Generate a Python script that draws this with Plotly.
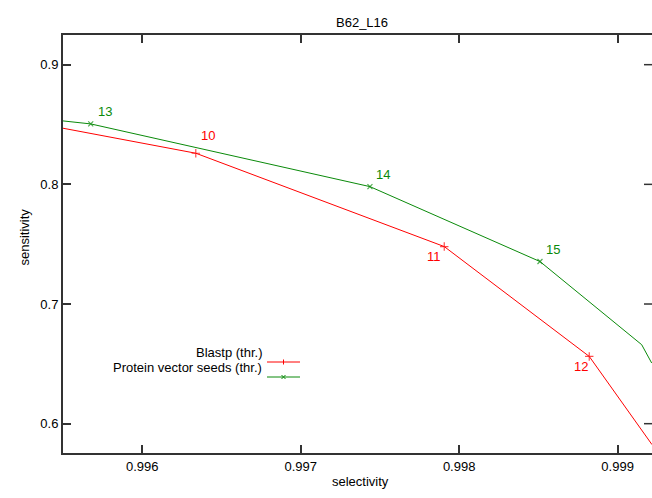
import plotly.graph_objects as go

# ---- data ----
blast_x = [0.99550, 0.996338, 0.997906, 0.998821, 0.999217]
blast_y = [0.8469, 0.8260, 0.7480, 0.6562, 0.5825]
blast_thr = ["", "10", "11", "12", ""]

pvs_x = [0.99550, 0.995675, 0.997437, 0.998510, 0.999152, 0.999215]
pvs_y = [0.8530, 0.8505, 0.7981, 0.7355, 0.6660, 0.6507]
pvs_thr = ["", "13", "14", "15", "", ""]

x_ticks = [0.996, 0.997, 0.998, 0.999]
y_ticks = [0.6, 0.7, 0.8, 0.9]

# ---- style ----
RED = "#ff0000"
GREEN = "#0a8a0a"
AX = "#333333"
FONT = "Liberation Sans, Arial, sans-serif"
FS = 13
W, H = 652, 498
ML, MR, MT, MB = 63, 0, 35, 45
PW, PH = W - ML - MR, H - MT - MB

# label offsets (px) for threshold labels
blast_off = [(0, 0), (12, -18), (-10, 10), (-8, 10), (0, 0)]
pvs_off = [(0, 0), (14, -12), (13, -12), (13, -12), (0, 0), (0, 0)]


def px(xp):
    return (xp - ML) / PW


def py(yp):
    return (H - MB - yp) / PH


fig = go.Figure()

fig.add_trace(go.Scatter(
    x=blast_x, y=blast_y, mode="lines+markers",
    line=dict(color=RED, width=1),
    marker=dict(symbol="cross-thin", size=[6 if t else 0 for t in blast_thr],
                line=dict(color=RED, width=1.2), color=RED),
    showlegend=False, hoverinfo="skip"))

fig.add_trace(go.Scatter(
    x=pvs_x, y=pvs_y, mode="lines+markers",
    line=dict(color=GREEN, width=1),
    marker=dict(symbol="x-thin", size=[5 if t else 0 for t in pvs_thr],
                line=dict(color=GREEN, width=1.2), color=GREEN),
    showlegend=False, hoverinfo="skip"))

annotations = []
for xs, ys, ts, offs, col in [(blast_x, blast_y, blast_thr, blast_off, RED),
                              (pvs_x, pvs_y, pvs_thr, pvs_off, GREEN)]:
    for x, y, t, (dx, dy) in zip(xs, ys, ts, offs):
        if t:
            annotations.append(dict(x=x, y=y, xref="x", yref="y", text=t,
                                    showarrow=False, xshift=dx, yshift=-dy,
                                    font=dict(family=FONT, size=FS, color=col)))

# title & axis titles
annotations.append(dict(x=px(362), y=py(13), xref="paper", yref="paper", text="B62_L16",
                        showarrow=False, font=dict(family=FONT, size=FS, color="#000")))
annotations.append(dict(x=px(360), y=py(491), xref="paper", yref="paper", text="selectivity",
                        showarrow=False, font=dict(family=FONT, size=FS, color="#000")))
annotations.append(dict(x=px(14), y=py(237), xref="paper", yref="paper", text="sensitivity",
                        showarrow=False, textangle=-90,
                        font=dict(family=FONT, size=FS, color="#000")))

# legend (gnuplot style: text right-aligned, sample on right)
shapes = []
for name, col, ypix, sym in [("Blastp (thr.)", RED, 362, "+"),
                             ("Protein vector seeds (thr.)", GREEN, 377, "x")]:
    annotations.append(dict(x=px(264), y=py(ypix), xref="paper", yref="paper", text=name,
                            xanchor="right", showarrow=False,
                            font=dict(family=FONT, size=FS, color="#000")))
    shapes.append(dict(type="line", xref="paper", yref="paper",
                       x0=px(267), x1=px(300), y0=py(ypix), y1=py(ypix),
                       line=dict(color=col, width=1)))
    cx, cy = 283.5, ypix
    if sym == "+":
        shapes.append(dict(type="line", xref="paper", yref="paper", x0=px(cx), x1=px(cx),
                           y0=py(cy - 2.5), y1=py(cy + 2.5), line=dict(color=col, width=1)))
    else:
        shapes.append(dict(type="line", xref="paper", yref="paper", x0=px(cx - 2), x1=px(cx + 2),
                           y0=py(cy - 2), y1=py(cy + 2), line=dict(color=col, width=1)))
        shapes.append(dict(type="line", xref="paper", yref="paper", x0=px(cx - 2), x1=px(cx + 2),
                           y0=py(cy + 2), y1=py(cy - 2), line=dict(color=col, width=1)))

# right-side inward ticks (right border itself lies outside the picture)
for v in y_ticks:
    shapes.append(dict(type="line", xref="paper", yref="y", x0=1 - 8 / PW, x1=1, y0=v, y1=v,
                       line=dict(color=AX, width=1.5)))

fig.update_layout(
    width=W, height=H,
    margin=dict(l=ML, r=MR, t=MT, b=MB, pad=0),
    paper_bgcolor="white", plot_bgcolor="white",
    font=dict(family=FONT, size=FS, color="#000"),
    annotations=annotations, shapes=shapes,
    xaxis=dict(range=[0.9955, 0.999217], tickvals=x_ticks,
               ticktext=[f"{v:.3f}" for v in x_ticks],
               showgrid=False, zeroline=False, showline=True, linecolor=AX, linewidth=2,
               mirror="ticks", ticks="inside", ticklen=8, tickwidth=1.5, tickcolor=AX,
               tickfont=dict(family=FONT, size=FS, color="#000")),
    yaxis=dict(range=[0.5755, 0.9248], tickvals=y_ticks,
               ticktext=[f"{v:.1f}" for v in y_ticks],
               showgrid=False, zeroline=False, showline=True, linecolor=AX, linewidth=2,
               mirror=False, ticks="inside", ticklen=8, tickwidth=1.5, tickcolor=AX,
               tickfont=dict(family=FONT, size=FS, color="#000")),
)

fig.write_html("out.html")
